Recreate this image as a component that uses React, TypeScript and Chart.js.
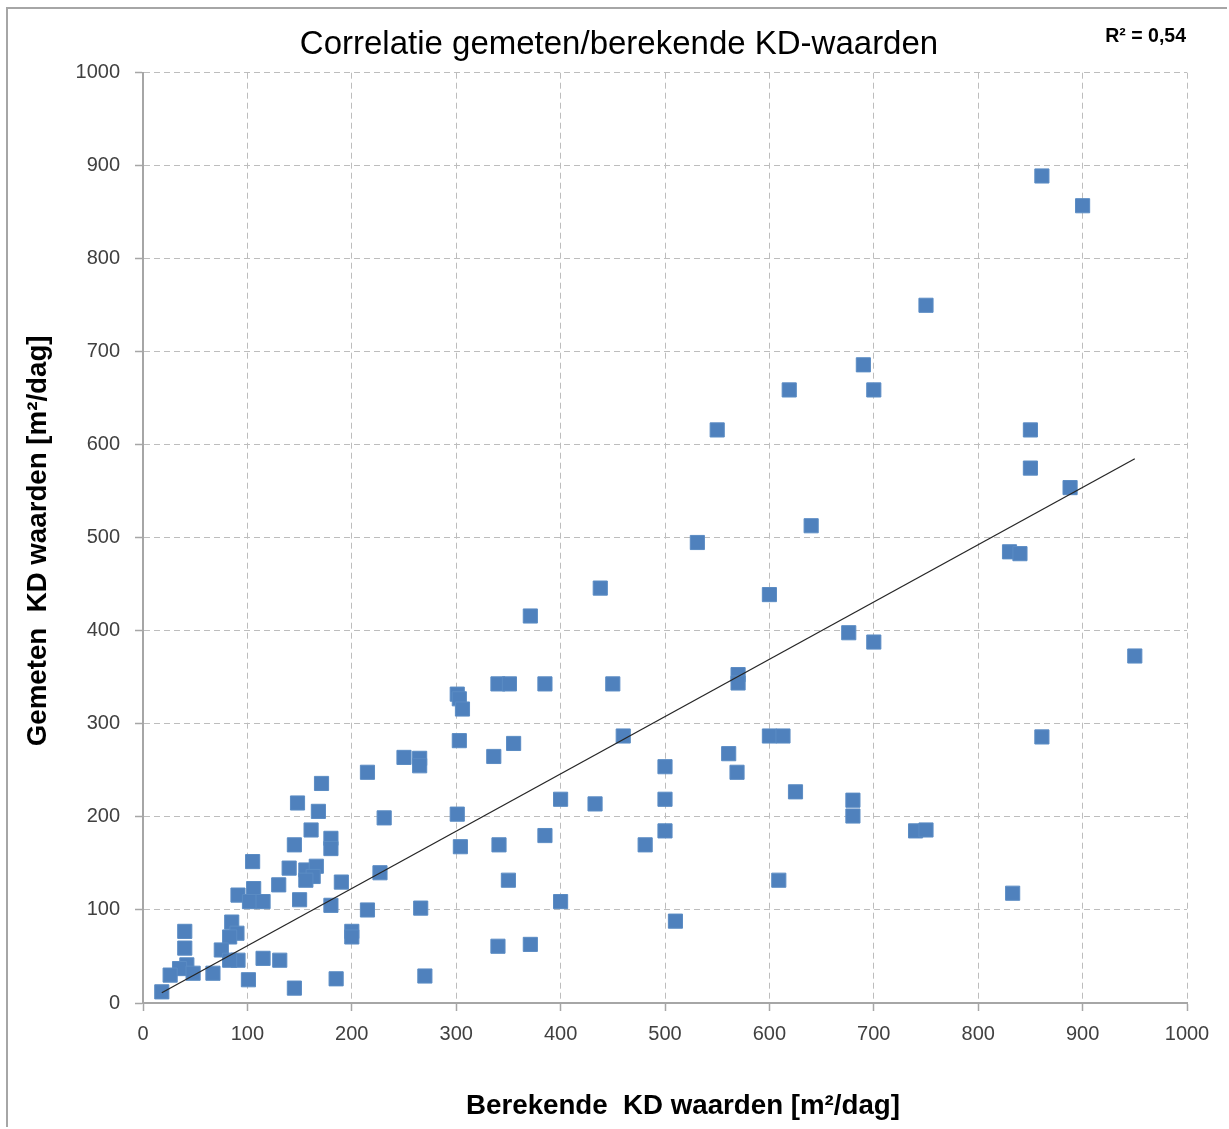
import React, { useEffect, useRef } from 'react';
import { Chart, registerables } from 'chart.js';

Chart.register(...registerables);

// Berekende KD waarden (x) [m2/dag]
const berekend = [
  861, 900, 750, 690, 619, 700, 550, 850, 850, 888,
  640, 531, 830, 840, 438, 600, 371, 676, 700, 950,
  570, 570, 340, 351, 385, 450, 301, 303, 306, 303,
  355, 336, 460, 600, 613, 561, 569, 500, 500, 400,
  433, 625, 680, 680, 301, 500, 385, 304, 341, 481,
  740, 750, 609, 350, 400, 510, 833, 340, 371, 270,
  861, 227,
  215, 250, 265, 265, 171, 148, 168, 231, 161, 180,
  180, 145, 105, 140, 156, 166, 163, 156, 190, 130,
  106, 91, 150, 102, 115, 180, 215, 266, 200, 200,
  40, 40, 85, 90, 83, 75, 91, 83, 115, 131,
  42, 35, 48, 26, 67, 101, 185, 145, 18,
];

// Gemeten KD waarden (y) [m2/dag]
const gemeten = [
  889, 857, 750, 686, 659, 659, 616, 616, 575, 554,
  513, 495, 485, 483, 446, 439, 416, 398, 388, 373,
  353, 344, 343, 343, 343, 343, 332, 327, 316, 282,
  279, 265, 287, 287, 287, 268, 248, 254, 219, 219,
  214, 227, 218, 201, 203, 185, 180, 168, 170, 170,
  185, 186, 132, 132, 109, 88, 118, 61, 63, 29,
  286, 140,
  248, 264, 263, 255, 236, 215, 206, 199, 186, 177,
  166, 170, 152, 145, 143, 147, 136, 132, 130, 127,
  123, 116, 111, 109, 109, 105, 100, 102, 77, 71,
  77, 59, 87, 75, 71, 57, 46, 46, 48, 46,
  41, 37, 32, 30, 32, 25, 26, 16, 12,
];

// Trendline end points
const trendX = [18, 950];
const trendY = [11, 585];

const axisMin = 0;
const axisMax = 1000;
const axisStep = 100;

const titleText = 'Correlatie gemeten/berekende KD-waarden';
const xTitle = 'Berekende  KD waarden [m²/dag]';
const yTitle = 'Gemeten  KD waarden [m²/dag]';
const r2Label = 'R² = 0,54';

const FONT = '"Liberation Sans", Arial, sans-serif';

const textPlugin = {
  id: 'extraTexts',
  afterDraw(chart: any) {
    const { ctx, chartArea } = chart;
    ctx.save();
    ctx.fillStyle = '#000';
    ctx.textBaseline = 'middle';
    ctx.textAlign = 'center';
    // main title
    ctx.font = `normal 33px ${FONT}`;
    ctx.fillText(titleText, (chartArea.left + chartArea.right) / 2 - 46, 36);
    // axis titles
    ctx.font = `bold 27.7px ${FONT}`;
    ctx.fillText(xTitle, (chartArea.left + chartArea.right) / 2 + 18, chartArea.bottom + 103);
    ctx.save();
    ctx.translate(chartArea.left - 105, (chartArea.top + chartArea.bottom) / 2 + 3);
    ctx.rotate(-Math.PI / 2);
    ctx.fillText(yTitle, 0, 0);
    ctx.restore();
    ctx.font = `bold 19.5px ${FONT}`;
    ctx.textAlign = 'right';
    ctx.fillText(r2Label, chartArea.right - 1, 28);
    ctx.restore();
  },
};

export default function App() {
  const ref = useRef<HTMLCanvasElement | null>(null);

  useEffect(() => {
    if (!ref.current) return;
    const points = berekend.map((x, i) => ({ x, y: gemeten[i] }));
    const trend = trendX.map((x, i) => ({ x, y: trendY[i] }));
    const gridCommon = {
      color: '#bdbdbd',
      lineWidth: 1,
      drawTicks: true,
      tickLength: 8,
      tickColor: '#a6a6a6',
      tickWidth: 1.5,
      tickBorderDash: [],
    };
    const chart = new Chart(ref.current, {
      type: 'scatter',
      data: {
        datasets: [
          {
            type: 'line',
            label: 'Trend',
            data: trend,
            borderColor: '#262626',
            borderWidth: 1.3,
            pointRadius: 0,
            fill: false,
            order: 0,
          } as any,
          {
            label: 'KD',
            data: points,
            pointStyle: 'rect',
            pointRadius: 10,
            pointHoverRadius: 10,
            backgroundColor: '#4F81BD',
            borderColor: '#5b8cc4',
            borderWidth: 1,
            order: 1,
          },
        ],
      },
      options: {
        animation: false,
        responsive: false,
        devicePixelRatio: 1,
        layout: { padding: { left: 0, right: 40, top: 63.7, bottom: 0 } },
        plugins: {
          legend: { display: false },
          tooltip: { enabled: false },
          title: { display: false },
        },
        scales: {
          x: {
            type: 'linear',
            min: axisMin,
            max: axisMax,
            ticks: {
              stepSize: axisStep,
              color: '#404040',
              font: { family: FONT, size: 20 },
              padding: 11,
              maxRotation: 0,
              callback: (v: any) => String(v),
            },
            grid: gridCommon as any,
            border: { display: true, color: '#a6a6a6', width: 2, dash: [6, 4] },
            afterFit: (s: any) => {
              s.height = 124;
            },
          },
          y: {
            type: 'linear',
            min: axisMin,
            max: axisMax,
            ticks: {
              stepSize: axisStep,
              color: '#404040',
              font: { family: FONT, size: 20 },
              padding: 15,
              callback: (v: any) => String(v),
            },
            grid: gridCommon as any,
            border: { display: true, color: '#a6a6a6', width: 2, dash: [6, 4] },
            afterFit: (s: any) => {
              s.width = 135;
            },
          },
        },
      },
      plugins: [textPlugin],
    });
    return () => chart.destroy();
  }, []);

  return (
    <div
      style={{
        position: 'absolute',
        left: 6,
        top: 7,
        width: 1219,
        height: 1118,
        borderLeft: '2px solid #a6a6a6',
        borderTop: '2px solid #a6a6a6',
        overflow: 'hidden',
        background: '#fff',
      }}
    >
      <canvas ref={ref} width={1219} height={1118} style={{ display: 'block' }} />
    </div>
  );
}
